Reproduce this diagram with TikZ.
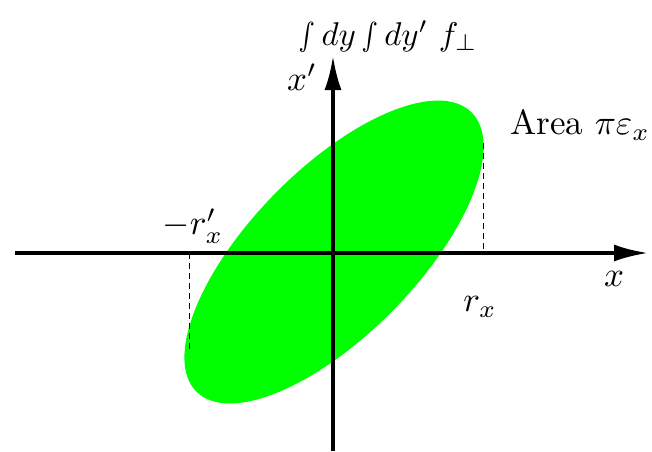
\documentclass[tikz,border=0pt]{standalone}
\usetikzlibrary{arrows.meta}
\begin{document}
\begin{tikzpicture}[x=1pt,y=1pt,
  axis/.style={line width=3.6pt,-{Latex[length=34pt,width=17pt]}},
  guide/.style={line width=1pt,dash pattern=on 6pt off 4pt},
  lbl/.style={scale=3.5,inner sep=0pt}]
\useasboundingbox (0,0) rectangle (652,451);
\coordinate (C) at (334,199);
\coordinate (O) at (333,198);
\coordinate (xl) at (15,198);
\coordinate (xr) at (648,198);
\coordinate (yb) at (333,0);
\coordinate (yt) at (333,395);
\coordinate (rt) at (483,308);
\coordinate (rb) at (483,198);
\coordinate (lt) at (189,198);
\coordinate (lb) at (189,99);
\fill[green, rotate around={45.5:(C)}] (C) ellipse (196 and 83);
\draw[guide] (rt) -- (rb);
\draw[guide] (lt) -- (lb);
\draw[axis] (xl) -- (xr);
\draw[axis] (yb) -- (yt);
\node[lbl,scale=0.94] (top) at (388,415) {$\smallint dy \smallint dy'\ f_\perp$};
\node[lbl] (xp) at (302,374) {$x'$};
\node[lbl] (area) at (580,326) {Area $\pi\varepsilon_x$};
\node[lbl] (xlab) at (614,172) {$x$};
\node[lbl] (rx) at (480,144) {$r_x$};
\node[lbl] (mrx) at (193,225) {$-r'_x$};
\end{tikzpicture}
\end{document}
